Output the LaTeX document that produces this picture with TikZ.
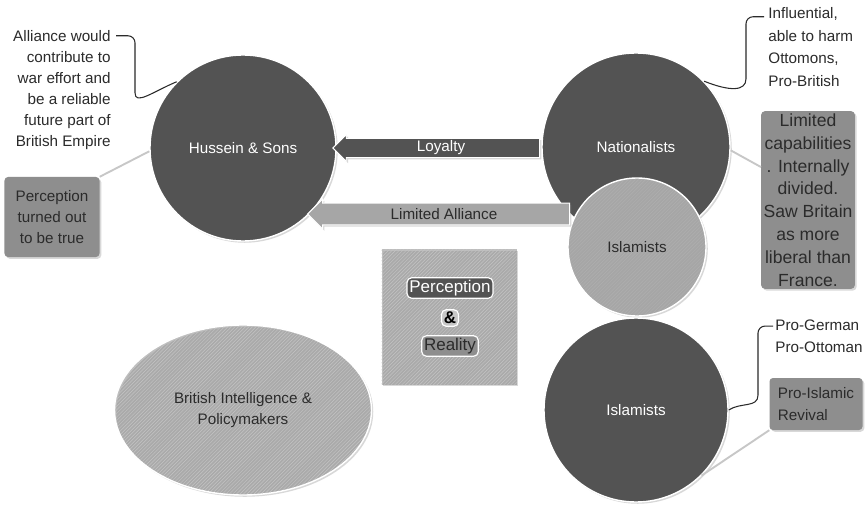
\documentclass[tikz,border=0pt]{standalone}
\usepackage{fontspec}
\setmainfont{Liberation Sans}
\usetikzlibrary{shapes.geometric, shapes.arrows, patterns, shadows, positioning, calc}

\definecolor{darkfill}{HTML}{535353}
\definecolor{lightfill}{HTML}{A6A6A6}
\definecolor{palefill}{HTML}{BDBDBD}
\definecolor{boxfill}{HTML}{8E8E8E}
\definecolor{inkgray}{HTML}{2B2B2B}

\begin{document}
\begin{tikzpicture}[
    x=0.03cm, y=-0.03cm,
    every node/.style={align=center, font=\fontsize{13}{18}\selectfont},
    softshadow/.style={drop shadow={opacity=0.3, shadow xshift=1.5pt, shadow yshift=-1.5pt}},
    bigcircle/.style={circle, draw=white, line width=1.2pt, fill=darkfill, text=white, inner sep=0pt, softshadow},
    hatched/.style={preaction={fill=#1}, pattern=north east lines, pattern color=white!10!#1},
    bandarrow/.style={single arrow, shape border rotate=180, draw=white, line width=0.8pt, single arrow head extend=3pt, inner xsep=2pt, softshadow},
    notebox/.style={rectangle, rounded corners=3pt, fill=boxfill, text=inkgray, inner sep=2pt, softshadow},
    tagbox/.style={rectangle, rounded corners=4pt, draw=white, line width=1pt, inner xsep=2pt, inner ysep=2pt, font=\fontsize{14.5}{18}\selectfont},
    note/.style={text=inkgray, inner sep=1pt},
    callout/.style={draw=inkgray, line width=0.9pt, rounded corners=6pt},
    link/.style={draw=black!22, line width=1.6pt}
]

    % Canvas
    \useasboundingbox[fill=white] (0,0) rectangle (867,509);

    % Main actors
    \node[bigcircle, minimum size=5.58cm] (hussein) at (243,148) {Hussein \& Sons};
    \node[bigcircle, minimum size=5.64cm] (nationalists) at (636,147) {Nationalists};
    \node[bigcircle, hatched=lightfill, text=inkgray, minimum size=4.14cm] (islamistsA) at (637,247) {Islamists};
    \node[bigcircle, minimum size=5.52cm] (islamistsB) at (636,410) {Islamists};
    \node[ellipse, draw=white, line width=1.2pt, hatched=palefill, softshadow, text=inkgray,
          minimum width=7.71cm, minimum height=5.1cm] (british) at (243,410) {British Intelligence \&\\Policymakers};

    % Relations
    \node[bandarrow, fill=darkfill, text=white, inner ysep=1pt, minimum width=0.8cm, minimum height=6.2cm] (loyalty) at (441,148) {Loyalty};
    \node[bandarrow, fill=lightfill, text=inkgray, inner ysep=2.5pt, minimum width=0.9cm, minimum height=7.86cm] (alliance) at (444,214) {Limited Alliance};

    % Centre panel
    \node[rectangle, hatched=palefill, softshadow, minimum size=4.05cm] (percbox) at (449,317) {};
    \node[tagbox, fill=darkfill, text=white] (perception) at (450,288) {Perception};
    \node[tagbox, fill=black!22, text=black] (amp) at (450,318) {\textbf{\&}};
    \node[tagbox, fill=boxfill, text=inkgray] (reality) at (450,346) {Reality};

    % Notes and boxes
    \node[note, align=right, anchor=east] (noteHussein) at (112,90) {Alliance would\\contribute to\\war effort and\\be a reliable\\future part of\\British Empire};
    \node[notebox, minimum width=2.85cm, minimum height=2.4cm] (boxHussein) at (52,217) {Perception\\turned out\\to be true};

    \node[note, align=left, anchor=west, font=\fontsize{13}{19.5}\selectfont] (noteNat) at (767,47) {Influential,\\able to harm\\Ottomons,\\Pro-British};
    \node[notebox, minimum width=2.79cm, minimum height=5.22cm, font=\fontsize{15}{19.5}\selectfont] (boxNat) at (808,200) {Limited\\capabilities\\. Internally\\divided.\\Saw Britain\\as more\\liberal than\\France.};

    \node[note, align=left, anchor=west, font=\fontsize{13}{19}\selectfont] (noteIsl) at (774,336) {Pro-German\\Pro-Ottoman};
    \node[notebox, align=left, minimum width=2.79cm, minimum height=1.56cm, font=\fontsize{13}{19}\selectfont] (boxIsl) at (816,404) {Pro-Islamic\\Revival\phantom{mic}};

    % Callouts
    \draw[callout] ($(noteHussein.north east)+(4,7)$) -- ++(19,0) -- ++(0,50) .. controls +(0,20) and +(-24,10) .. (hussein.135);
    \draw[callout] ($(noteNat.north west)+(-3,11)$) -- ++(-18,0) -- ++(0,55) .. controls +(0,20) and +(25,10) .. (nationalists.44);
    \draw[callout] ($(noteIsl.north west)+(-1,8)$) -- ++(-15,0) -- ++(0,62) .. controls +(0,20) and +(12,-8) .. (islamistsB.east);

    % Links to boxes
    \draw[link] (boxHussein.north east) -- (hussein.182);
    \draw[link] (boxNat.145) -- (nationalists.-2);
    \draw[link] (boxIsl.south west) -- (islamistsB.-45);

\end{tikzpicture}
\end{document}
